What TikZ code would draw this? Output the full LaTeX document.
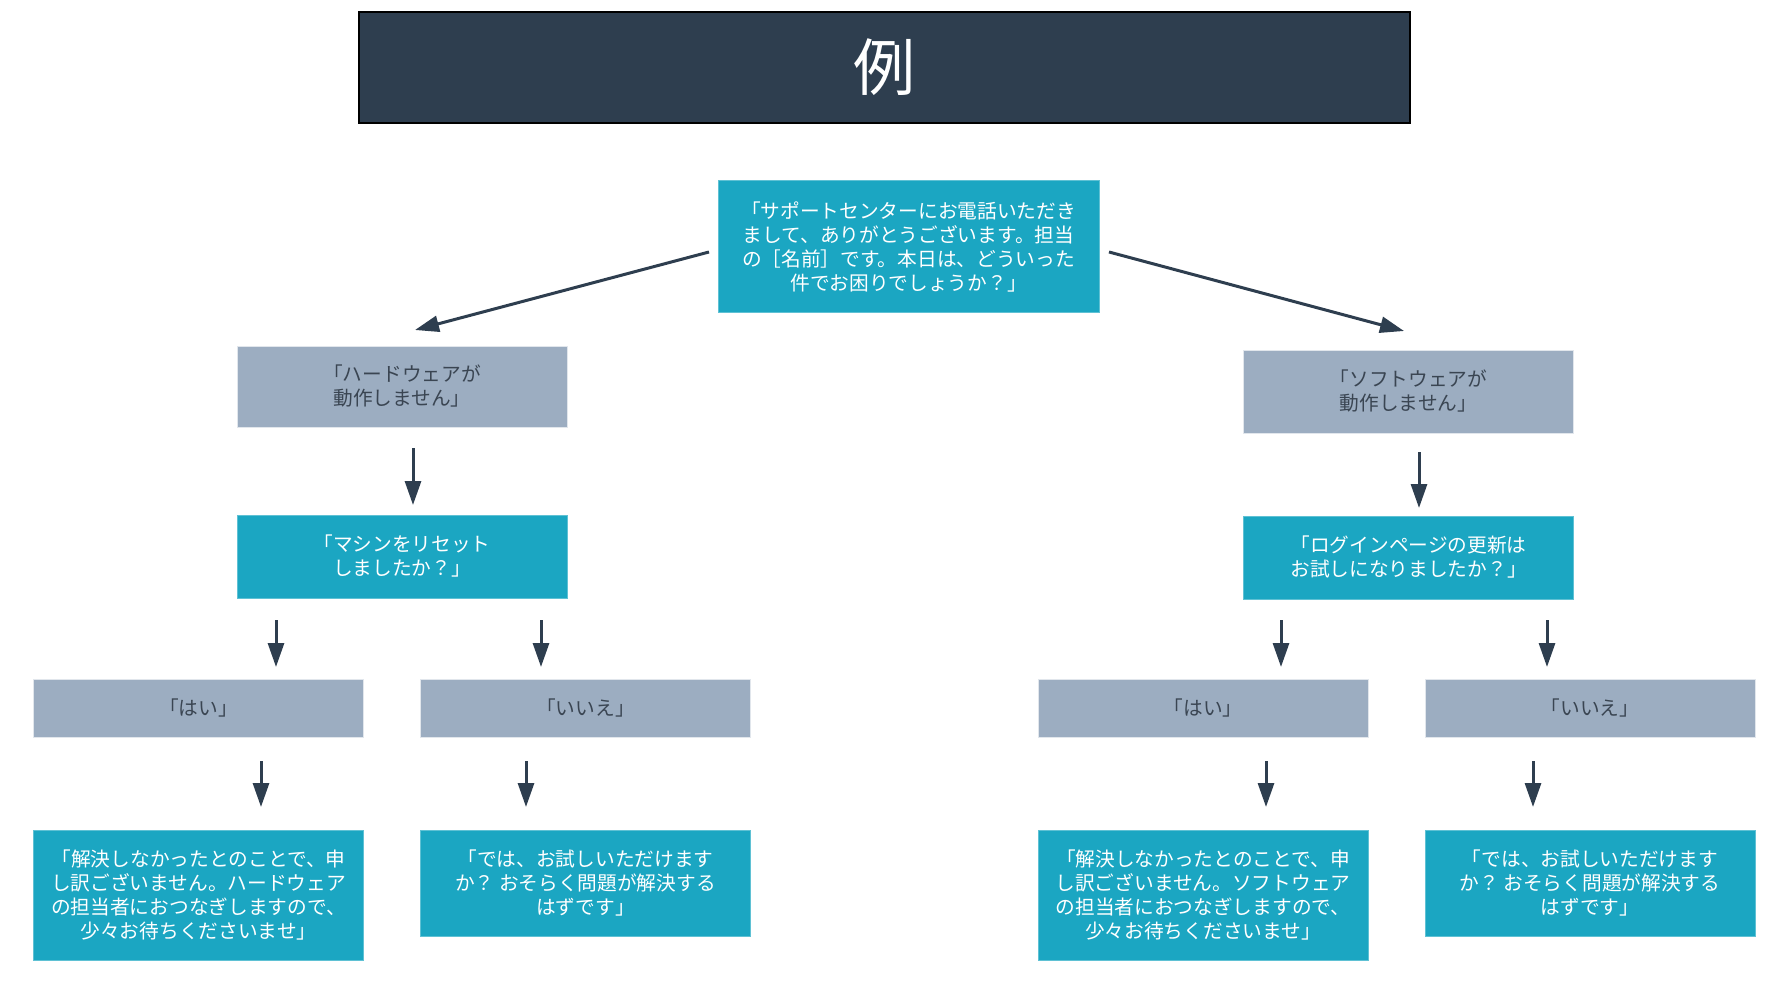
\documentclass[tikz,border=0pt]{standalone}
\usepackage{fontspec}
\newfontfamily\jpfont{Noto Sans CJK JP}
\usetikzlibrary{arrows.meta,positioning}

\definecolor{navy}{HTML}{2E3E4F}
\definecolor{cyanbox}{HTML}{1BA6C2}
\definecolor{slatebox}{HTML}{9CADC1}
\definecolor{textgray}{HTML}{3A4552}

\tikzset{
  titlebox/.style={draw=black, line width=1.2pt, fill=navy, text=white,
    font=\jpfont\fontsize{62}{70}\selectfont, minimum width=1051pt, minimum height=111pt},
  askbox/.style={fill=cyanbox, draw=cyanbox!70!white, line width=1pt, text=white,
    font=\jpfont\fontsize{19.7}{24}\selectfont, minimum width=330pt},
  answerbox/.style={fill=slatebox, draw=slatebox!30!white, line width=1pt, text=textgray,
    font=\jpfont\fontsize{19.7}{24}\selectfont, minimum width=330pt},
  arr/.style={draw=navy, line width=3pt, -{Triangle[length=24pt,width=16pt]}},
}

\begin{document}
\begin{tikzpicture}[x=1pt,y=-1pt,every node/.style={inner sep=0pt, align=center}]
\useasboundingbox (0,0) rectangle (1771,992);

\node[titlebox] (title) at (884.5,67.5) {例};

\node[askbox, minimum width=381pt, minimum height=131pt] (start) at (908.5,246.5)
  {「サポートセンターにお電話いただき\\ まして、ありがとうございます。担当\\
   の［名前］です。本日は、どういった\\ 件でお困りでしょうか？」};

\node[answerbox, minimum height=81pt] (hw) at (402,386.5) {「ハードウェアが\\ 動作しません」};
\node[answerbox, minimum height=83pt] (sw) at (1408.5,391.5) {「ソフトウェアが\\ 動作しません」};

\node[askbox, minimum height=83pt] (hwq) at (402,556.5) {「マシンをリセット\\ しましたか？」};
\node[askbox, minimum height=83pt] (swq) at (1408.5,557.5) {「ログインページの更新は\\ お試しになりましたか？」};

\node[answerbox, minimum height=58pt] (hwyes) at (198.5,708) {「はい」};
\node[answerbox, minimum height=58pt] (hwno) at (585.5,708) {「いいえ」};
\node[answerbox, minimum height=58pt] (swyes) at (1203,708) {「はい」};
\node[answerbox, minimum height=58pt] (swno) at (1590,708) {「いいえ」};

\node[askbox, minimum height=130pt] (hwend) at (198.5,895)
  {「解決しなかったとのことで、申\\ し訳ございません。ハードウェア\\
   の担当者におつなぎしますので、\\ 少々お待ちくださいませ」};
\node[askbox, minimum height=106pt] (hwtry) at (585.5,883)
  {「では、お試しいただけます\\ か？ おそらく問題が解決する\\ はずです」};
\node[askbox, minimum height=130pt] (swend) at (1203,895)
  {「解決しなかったとのことで、申\\ し訳ございません。ソフトウェア\\
   の担当者におつなぎしますので、\\ 少々お待ちくださいませ」};
\node[askbox, minimum height=106pt] (swtry) at (1590,883)
  {「では、お試しいただけます\\ か？ おそらく問題が解決する\\ はずです」};

% arrow ends
\coordinate (s1) at (709,252);  \coordinate (e1) at (415,330);
\coordinate (s2) at (1109,252); \coordinate (e2) at (1404,331);
\coordinate (s3) at (413,448);  \coordinate (e3) at (413,505);
\coordinate (s4) at (1419,452); \coordinate (e4) at (1419,508);
\coordinate (s5) at (276,620);  \coordinate (e5) at (276,667);
\coordinate (s6) at (541,620);  \coordinate (e6) at (541,667);
\coordinate (s7) at (1281,620); \coordinate (e7) at (1281,667);
\coordinate (s8) at (1547,620); \coordinate (e8) at (1547,667);
\coordinate (s9) at (261,761);  \coordinate (e9) at (261,807);
\coordinate (s10) at (526,761); \coordinate (e10) at (526,807);
\coordinate (s11) at (1266,761); \coordinate (e11) at (1266,807);
\coordinate (s12) at (1533,761); \coordinate (e12) at (1533,807);

\foreach \i in {1,...,12}
  \draw[arr] (s\i) -- (e\i);
\end{tikzpicture}
\end{document}
